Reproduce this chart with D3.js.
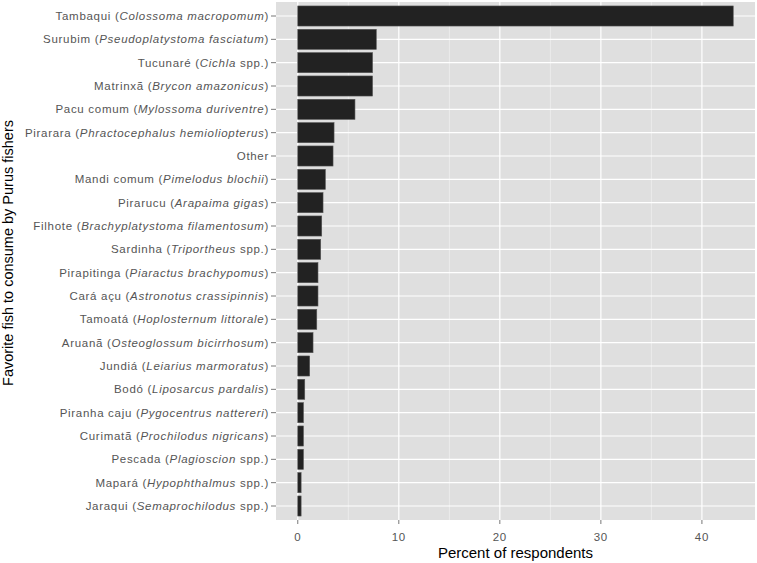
<!DOCTYPE html>
<html lang="en">
<head>
    <meta charset="UTF-8">
    <title>Favorite fish to consume by Purus fishers</title>
    <script src="https://d3js.org/d3.v7.min.js"></script>
    <style>
        body {
            margin: 0;
            background: #fff;
            font-family: "Liberation Sans", Arial, sans-serif;
        }
        .tick-label {
            font-size: 11.5px;
            letter-spacing: 0.7px;
            fill: #555;
        }
        .axis-title {
            font-size: 14.5px;
            fill: #000;
        }
    </style>
</head>
<body>
<svg id="chart"></svg>
<script>
    // Common names, scientific names (italic) and trailing plain text
    const commonNames = ["Tambaqui", "Surubim", "Tucunaré", "Matrinxã", "Pacu comum", "Pirarara", "Other",
        "Mandi comum", "Pirarucu", "Filhote", "Sardinha", "Pirapitinga", "Cará açu", "Tamoatá", "Aruanã",
        "Jundiá", "Bodó", "Piranha caju", "Curimatã", "Pescada", "Mapará", "Jaraqui"];
    const sciNames = ["Colossoma macropomum", "Pseudoplatystoma fasciatum", "Cichla", "Brycon amazonicus",
        "Mylossoma duriventre", "Phractocephalus hemioliopterus", "", "Pimelodus blochii", "Arapaima gigas",
        "Brachyplatystoma filamentosum", "Triportheus", "Piaractus brachypomus", "Astronotus crassipinnis",
        "Hoplosternum littorale", "Osteoglossum bicirrhosum", "Leiarius marmoratus", "Liposarcus pardalis",
        "Pygocentrus nattereri", "Prochilodus nigricans", "Plagioscion", "Hypophthalmus", "Semaprochilodus"];
    const sppFlags = [false, false, true, false, false, false, false, false, false, false, true, false,
        false, false, false, false, false, false, false, true, true, true];
    const percents = [43.1, 7.77, 7.4, 7.4, 5.66, 3.59, 3.49, 2.73, 2.5, 2.37, 2.27, 2.0, 2.0, 1.88, 1.51,
        1.18, 0.69, 0.56, 0.56, 0.56, 0.33, 0.33];
    const xTicks = [0, 10, 20, 30, 40];
    const xMinor = [5, 15, 25, 35];

    const W = 757, H = 563;
    const panel = { left: 276, right: 755, top: 2, bottom: 520 };

    const svg = d3.select("#chart").attr("width", W).attr("height", H);

    const data = commonNames.map((n, i) => ({ name: n, sci: sciNames[i], spp: sppFlags[i], value: percents[i] }));

    const xMax = d3.max(percents);
    const pad = xMax * 0.05;
    const x = d3.scaleLinear().domain([-pad, xMax + pad]).range([panel.left, panel.right]);

    // discrete scale with 0.6 expansion at both ends, like ggplot
    const n = data.length;
    const step = (panel.bottom - panel.top) / (n - 1 + 1.2);
    const yCenter = i => panel.top + step * (0.6 + i);
    const barH = step * 0.86;

    // panel background
    svg.append("rect")
        .attr("x", panel.left).attr("y", panel.top)
        .attr("width", panel.right - panel.left).attr("height", panel.bottom - panel.top)
        .attr("fill", "#dfdfdf");

    // minor grid
    svg.append("g").selectAll("line").data(xMinor).join("line")
        .attr("x1", d => x(d)).attr("x2", d => x(d))
        .attr("y1", panel.top).attr("y2", panel.bottom)
        .attr("stroke", "#f0f0f0").attr("stroke-width", 0.8);

    // major grid
    svg.append("g").selectAll("line").data(xTicks).join("line")
        .attr("x1", d => x(d)).attr("x2", d => x(d))
        .attr("y1", panel.top).attr("y2", panel.bottom)
        .attr("stroke", "#fff").attr("stroke-width", 1.2);

    svg.append("g").selectAll("line").data(data).join("line")
        .attr("x1", panel.left).attr("x2", panel.right)
        .attr("y1", (d, i) => yCenter(i)).attr("y2", (d, i) => yCenter(i))
        .attr("stroke", "#fff").attr("stroke-width", 1.2);

    // bars
    svg.append("g").selectAll("rect").data(data).join("rect")
        .attr("x", x(0))
        .attr("y", (d, i) => yCenter(i) - barH / 2)
        .attr("width", d => x(d.value) - x(0))
        .attr("height", barH)
        .attr("fill", "#222")
        .attr("stroke", "#555")
        .attr("stroke-width", 0.6);

    // y axis ticks and labels
    const yAxis = svg.append("g");
    yAxis.selectAll("line").data(data).join("line")
        .attr("x1", panel.left - 5).attr("x2", panel.left)
        .attr("y1", (d, i) => yCenter(i)).attr("y2", (d, i) => yCenter(i))
        .attr("stroke", "#777");

    yAxis.selectAll("text").data(data).join("text")
        .attr("class", "tick-label")
        .attr("x", panel.left - 7)
        .attr("y", (d, i) => yCenter(i))
        .attr("dy", "0.35em")
        .attr("text-anchor", "end")
        .each(function(d) {
            const t = d3.select(this);
            if (!d.sci) { t.text(d.name); return; }
            t.append("tspan").text(d.name + " (");
            t.append("tspan").attr("font-style", "italic").text(d.sci);
            t.append("tspan").text(d.spp ? " spp.)" : ")");
        });

    // x axis
    const xAxis = svg.append("g");
    xAxis.selectAll("line").data(xTicks).join("line")
        .attr("x1", d => x(d)).attr("x2", d => x(d))
        .attr("y1", panel.bottom).attr("y2", panel.bottom + 4)
        .attr("stroke", "#777");
    xAxis.selectAll("text").data(xTicks).join("text")
        .attr("class", "tick-label")
        .attr("x", d => x(d))
        .attr("y", panel.bottom + 17)
        .attr("dy", "0.35em")
        .attr("text-anchor", "middle")
        .text(d => d);

    // axis titles
    svg.append("text")
        .attr("class", "axis-title")
        .style("font-size", "15px")
        .attr("x", (panel.left + panel.right) / 2)
        .attr("y", 553)
        .attr("dy", "0.35em")
        .attr("text-anchor", "middle")
        .text("Percent of respondents");

    svg.append("text")
        .attr("class", "axis-title")
        .attr("transform", "translate(8,253) rotate(-90)")
        .attr("dy", "0.35em")
        .attr("text-anchor", "middle")
        .text("Favorite fish to consume by Purus fishers");
</script>
</body>
</html>
